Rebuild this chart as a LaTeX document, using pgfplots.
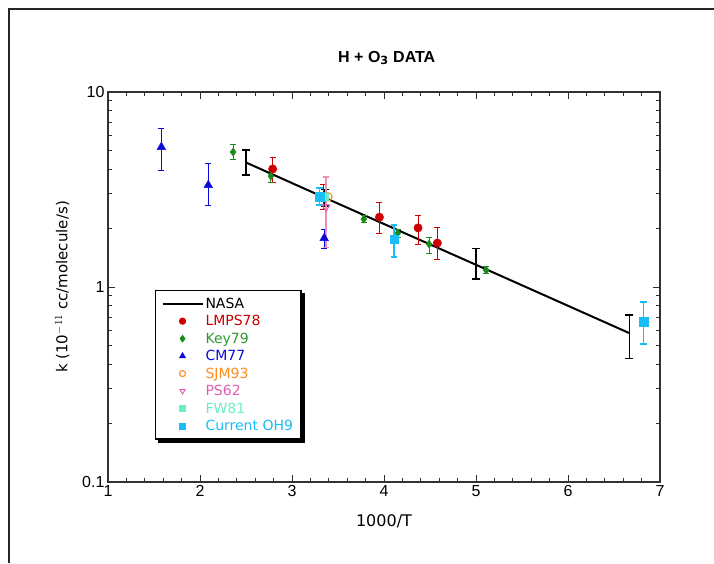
\documentclass[border=0pt]{standalone}
\usepackage{pgfplots}
\pgfplotsset{compat=1.18}
\usepackage{fontspec}
\setmainfont{DejaVu Sans}
\newfontfamily\tickfont{Liberation Sans}
\pgfdeclarelayer{background}
\pgfsetlayers{background,main}

\definecolor{lmpsred}{HTML}{CC0000}
\definecolor{keygreen}{HTML}{1A8A1A}
\definecolor{keytext}{HTML}{2E9A2E}
\definecolor{cmblue}{HTML}{0A0ADC}
\definecolor{sjmorange}{HTML}{FF8C1A}
\definecolor{pspink}{HTML}{E25DB5}
\definecolor{psbar}{HTML}{EC8FB8}
\definecolor{fwaqua}{HTML}{6AF0C0}
\definecolor{ohcyan}{HTML}{18BEF5}

\begin{document}
\begin{tikzpicture}
\path[use as bounding box] (-108pt,-81pt) rectangle (606pt,482pt);
\draw[line width=2pt, black!85] (-99pt,-81pt) -- (-99pt,473pt) -- (606pt,473pt);

\begin{axis}[
  scale only axis, width=552pt, height=390pt,
  xmin=1, xmax=7, ymin=0.1, ymax=10, ymode=log,
  xtick={1,...,7}, minor x tick num=4,
  ytick={0.1,1,10}, yticklabels={0.1,1,10},
  tick align=inside, major tick length=7pt, minor tick length=4pt,
  axis line style={line width=1.2pt, black!80},
  tick style={line width=1pt, black!80},
  /pgf/number format/assume math mode=true,
  ticklabel style={font=\tickfont\fontsize{16}{16}\selectfont},
  title={\textbf{H + O$_\mathbf{3}$ DATA}},
  title style={font=\tickfont\fontsize{16}{16}\selectfont, at={(axis description cs:0.505,1.072)}, anchor=center},
  xlabel={1000/T},
  x label style={font=\fontsize{16}{16}\selectfont, at={(axis description cs:0.5,-0.1)}, anchor=center},
  ylabel={k (10$^{-11}$ cc/molecule/s)},
  y label style={font=\fontsize{15}{15}\selectfont, at={(axis description cs:-0.083,0.5)}, anchor=center},
  legend style={name=leg, at={(rel axis cs:0.085,0.492)}, anchor=north west,
    draw=black, line width=1.2pt, fill=white,
    font=\fontsize{14}{15}\selectfont, row sep=1.6pt, inner xsep=6pt, inner ysep=5pt},
  legend cell align=left,
  legend image code/.code={\draw[mark repeat=2,mark phase=2,#1,mark size=3pt] plot coordinates {(0pt,0pt)(20pt,0pt)(40pt,0pt)};},
]

% NASA evaluation with uncertainty bars
\addplot[black, line width=2pt, mark=none,
  error bars/.cd, y dir=both, y explicit,
  error bar style={line width=1.5pt, draw=black},
  error mark options={draw=black, line width=1.5pt, mark size=4pt, rotate=90}]
  coordinates {
  (2.5,4.35) += (0,0.70) -= (0,0.60)
  (3.356,2.87) += (0,0.29) -= (0,0.26)
  (5,1.30) += (0,0.28) -= (0,0.20)
  (6.667,0.58) += (0,0.14) -= (0,0.15)
  };
\addlegendentry{NASA}

\addplot[only marks, mark=*, mark size=4.2pt, color=lmpsred,
  error bars/.cd, y dir=both, y explicit,
  error bar style={line width=1pt, draw=lmpsred},
  error mark options={draw=lmpsred, line width=1pt, mark size=3pt, rotate=90}]
  coordinates {
  (2.79,4.03) += (0,0.56) -= (0,0.58)
  (3.34,2.90) += (0,0.44) -= (0,0.40)
  (3.95,2.28) += (0,0.42) -= (0,0.39)
  (4.37,2.01) += (0,0.33) -= (0,0.35)
  (4.58,1.68) += (0,0.35) -= (0,0.30)
  };
\addlegendentry{\textcolor{lmpsred}{LMPS78}}

\addplot[only marks, mark=diamond*, mark size=4pt, color=keygreen,
  error bars/.cd, y dir=both, y explicit,
  error bar style={line width=1pt, draw=keygreen},
  error mark options={draw=keygreen, line width=1pt, mark size=3pt, rotate=90}]
  coordinates {
  (2.36,4.92) += (0,0.43) -= (0,0.39)
  (2.77,3.71) += (0,0.18) -= (0,0.26)
  (3.78,2.23) += (0,0.11) -= (0,0.10)
  (4.15,1.89) += (0,0.09) -= (0,0.09)
  (4.49,1.66) += (0,0.14) -= (0,0.18)
  (5.11,1.22) += (0,0.05) -= (0,0.05)
  };
\addlegendentry{\textcolor{keytext}{Key79}}

\addplot[only marks, mark=triangle*, mark size=5pt, color=cmblue,
  error bars/.cd, y dir=both, y explicit,
  error bar style={line width=1pt, draw=cmblue},
  error mark options={draw=cmblue, line width=1pt, mark size=3pt, rotate=90}]
  coordinates {
  (1.58,5.22) += (0,1.31) -= (0,1.24)
  (2.09,3.33) += (0,0.99) -= (0,0.70)
  (3.35,1.78) += (0,0.20) -= (0,0.21)
  };
\addlegendentry{\textcolor{cmblue}{CM77}}

\addplot[only marks, mark=o, mark size=4.2pt, color=sjmorange, mark options={line width=1.1pt}]
  coordinates {(3.39,2.90)};
\addlegendentry{\textcolor{sjmorange}{SJM93}}

\addplot[only marks, mark=triangle, mark size=4.5pt, color=pspink,
  mark options={rotate=180, line width=0.9pt},
  error bars/.cd, y dir=both, y explicit,
  error bar style={line width=1.4pt, draw=psbar},
  error mark options={draw=psbar, line width=1.4pt, mark size=3pt, rotate=90}]
  coordinates {(3.37,2.57) += (0,1.09) -= (0,0.97)};
\addlegendentry{\textcolor{pspink}{PS62}}

\addplot[only marks, mark=square*, mark size=3.6pt, color=fwaqua]
  coordinates {(3.35,2.90)};
\addlegendentry{\textcolor{fwaqua}{FW81}}

\addplot[only marks, mark=square*, mark size=4.3pt, color=ohcyan,
  error bars/.cd, y dir=both, y explicit,
  error bar style={line width=1.7pt, draw=ohcyan},
  error mark options={draw=ohcyan, line width=1.7pt, mark size=3.2pt, rotate=90}]
  coordinates {
  (3.30,2.90) += (0,0.32) -= (0,0.27)
  (4.11,1.76) += (0,0.32) -= (0,0.33)
  (6.82,0.662) += (0,0.175) -= (0,0.152)
  };
\addlegendentry{\textcolor{ohcyan}{Current OH9}}

\end{axis}
\begin{pgfonlayer}{background}
\fill[black] ([xshift=3pt,yshift=-3pt]leg.south west) rectangle ([xshift=3pt,yshift=-3pt]leg.north east);
\end{pgfonlayer}
\end{tikzpicture}
\end{document}
